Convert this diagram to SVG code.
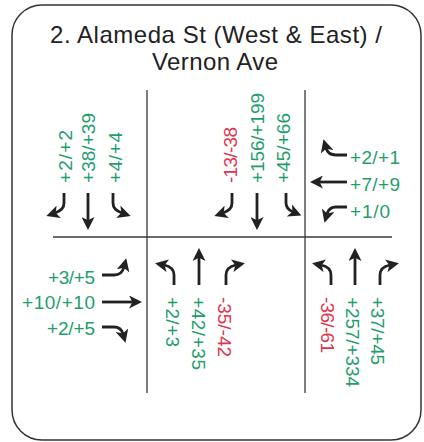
<svg xmlns="http://www.w3.org/2000/svg" width="424" height="442" viewBox="0 0 424 442">
<style>
.t{font-family:"Liberation Sans",Arial,sans-serif;fill:#222;font-size:24px}
.l{font-family:"Liberation Sans",Arial,sans-serif;font-size:19px}
.g{fill:#1f9e6c}
.r{fill:#e0344e}
.a{fill:none;stroke:#222;stroke-width:2.8;marker-end:url(#ah)}
.ln{stroke:#3a3a3a;stroke-width:1.3;fill:none}
</style>
<defs>
<marker id="ah" viewBox="0 0 10 10" refX="3" refY="5" markerWidth="13" markerHeight="13" markerUnits="userSpaceOnUse" orient="auto">
<path d="M0,0 L10,5 L0,10 L2.5,5 z" fill="#222"/>
</marker>
</defs>
<rect x="12" y="5" width="409" height="435" rx="30" ry="30" fill="#fff" stroke="#333" stroke-width="1.5"/>
<g id="title">
<text class="t" x="216" y="43" text-anchor="middle" textLength="332">2. Alameda St (West &amp; East) /</text>
<text class="t" x="215" y="70" text-anchor="middle" textLength="126">Vernon Ave</text>
</g>
<g id="streets">
<path class="ln" d="M53,237 H392 M147,90 V393 M305,90 V393"/>
</g>
<g id="connectors">
<path class="a" d="M64,193 V203 Q64,210 55,213"/>
<path class="a" d="M88,193 V221"/>
<path class="a" d="M113,193 V203 Q113,210 122,213"/>
<path class="a" d="M232,193 V203 Q232,210 223,213"/>
<path class="a" d="M257,193 V221"/>
<path class="a" d="M286,193 V203 Q286,209 293,212"/>
<path class="a" d="M347,155 H336 Q328,155 326,148"/>
<path class="a" d="M347,182 H319"/>
<path class="a" d="M347,207 H336 Q329,207 327,214"/>
<path class="a" d="M102,275 H114 Q122,275 124,267"/>
<path class="a" d="M102,302 H133"/>
<path class="a" d="M102,327 H114 Q121,327 123,334"/>
<path class="a" d="M174,285 V275 Q174,267 164,265"/>
<path class="a" d="M199,285 V257"/>
<path class="a" d="M226,285 V275 Q226,267 236,265"/>
<path class="a" d="M331,285 V275 Q331,267 321,265"/>
<path class="a" d="M355,285 V257"/>
<path class="a" d="M380,285 V275 Q380,267 390,265"/>
</g>
<g id="north-west">
<text class="l g" transform="translate(72,183) rotate(-90)" textLength="53">+2/+2</text>
<text class="l g" transform="translate(95,183) rotate(-90)" textLength="70">+38/+39</text>
<text class="l g" transform="translate(122,183) rotate(-90)" textLength="51">+4/+4</text>
</g>
<g id="north-center">
<text class="l r" transform="translate(237,183) rotate(-90)" textLength="56">-13/-38</text>
<text class="l g" transform="translate(264,183) rotate(-90)" textLength="90">+156/+199</text>
<text class="l g" transform="translate(290,183) rotate(-90)" textLength="70">+45/+66</text>
</g>
<g id="east">
<text class="l g" x="350" y="164" textLength="50">+2/+1</text>
<text class="l g" x="350" y="191" textLength="50">+7/+9</text>
<text class="l g" x="350" y="218" textLength="40">+1/0</text>
</g>
<g id="west">
<text class="l g" x="48" y="284" textLength="47">+3/+5</text>
<text class="l g" x="22" y="309" textLength="73">+10/+10</text>
<text class="l g" x="47" y="335" textLength="48">+2/+5</text>
</g>
<g id="south-center">
<text class="l g" transform="translate(166,297) rotate(90)" textLength="50">+2/+3</text>
<text class="l g" transform="translate(192,297) rotate(90)" textLength="73">+42/+35</text>
<text class="l r" transform="translate(218,297) rotate(90)" textLength="60">-35/-42</text>
</g>
<g id="south-east">
<text class="l r" transform="translate(321,297) rotate(90)" textLength="56">-36/-61</text>
<text class="l g" transform="translate(346,297) rotate(90)" textLength="90">+257/+334</text>
<text class="l g" transform="translate(371,297) rotate(90)" textLength="68">+37/+45</text>
</g>
</svg>
